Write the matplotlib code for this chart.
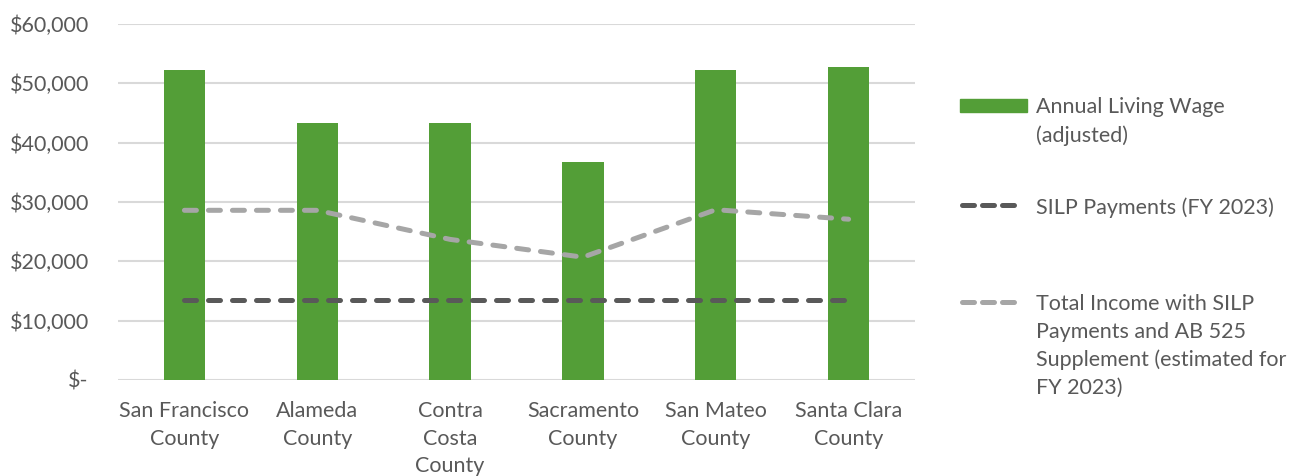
import numpy as np
import matplotlib.pyplot as plt
from matplotlib.lines import Line2D
from matplotlib.patches import Rectangle
from matplotlib.ticker import FuncFormatter

counties = ['San Francisco\nCounty', 'Alameda\nCounty', 'Contra\nCosta\nCounty',
            'Sacramento\nCounty', 'San Mateo\nCounty', 'Santa Clara\nCounty']
living_wage = [52300, 43300, 43300, 36800, 52300, 52800]
silp_payments = [13500, 13500, 13500, 13500, 13500, 13500]
total_income = [28600, 28600, 23700, 20700, 28700, 27100]

GREEN = '#539E37'
DARK = '#595959'
LIGHT = '#A6A6A6'
TEXT = '#595959'

plt.rcParams['font.family'] = ['Lato', 'DejaVu Sans']
FS = 15.5
LS = 1.48

fig = plt.figure(figsize=(12.95, 4.76), dpi=100)
ax = fig.add_axes([118 / 1295, 1 - 380 / 476, 797 / 1295, 356 / 476])

x = np.arange(len(counties))
ax.bar(x, living_wage, width=0.31, color=GREEN, zorder=2)
ax.plot(x, silp_payments, color=DARK, lw=3.6, dashes=(2.4, 2.4),
        dash_capstyle='round', zorder=3)
ax.plot(x, total_income, color=LIGHT, lw=3.6, dashes=(2.4, 2.4),
        dash_capstyle='round', zorder=3)

ax.set_xlim(-0.5, len(counties) - 0.5)
ax.set_ylim(0, 60000)
ax.set_yticks(np.arange(0, 60001, 10000))
ax.yaxis.set_major_formatter(FuncFormatter(lambda v, p: '$-' if v == 0 else f'${v:,.0f}'))
ax.set_xticks(x)
ax.set_xticklabels(counties, linespacing=LS)
ax.tick_params(axis='both', length=0, labelsize=FS, labelcolor=TEXT)
ax.tick_params(axis='y', pad=21)
ax.tick_params(axis='x', pad=15)
ax.grid(axis='y', color='#D9D9D9', lw=1.5, zorder=0)
for s in ax.spines.values():
    s.set_visible(False)

# legend drawn by hand so the handles sit on the first text line
W, H = 1295, 476

def fx(px):
    return px / W

def fy(py):
    return 1 - py / H

fig.add_artist(Rectangle((fx(960), fy(112)), fx(1027) - fx(960), fy(99) - fy(112),
                         transform=fig.transFigure, color=GREEN))
fig.text(fx(1036), fy(97), 'Annual Living Wage\n(adjusted)', fontsize=FS, color=TEXT,
         va='top', ha='left', linespacing=LS, transform=fig.transFigure)
for yy, col, lab in [(205, DARK, 'SILP Payments (FY 2023)'),
                     (302, LIGHT, 'Total Income with SILP\nPayments and AB 525\n'
                                  'Supplement (estimated for\nFY 2023)')]:
    fig.add_artist(Line2D([fx(962), fx(1020)], [fy(yy), fy(yy)], color=col, lw=3.6,
                          dashes=(2.4, 1.6), dash_capstyle='round',
                          transform=fig.transFigure))
    fig.text(fx(1036), fy(yy - 8), lab, fontsize=FS, color=TEXT, va='top', ha='left',
             linespacing=LS, transform=fig.transFigure)

fig.savefig('out.png', dpi=100)
